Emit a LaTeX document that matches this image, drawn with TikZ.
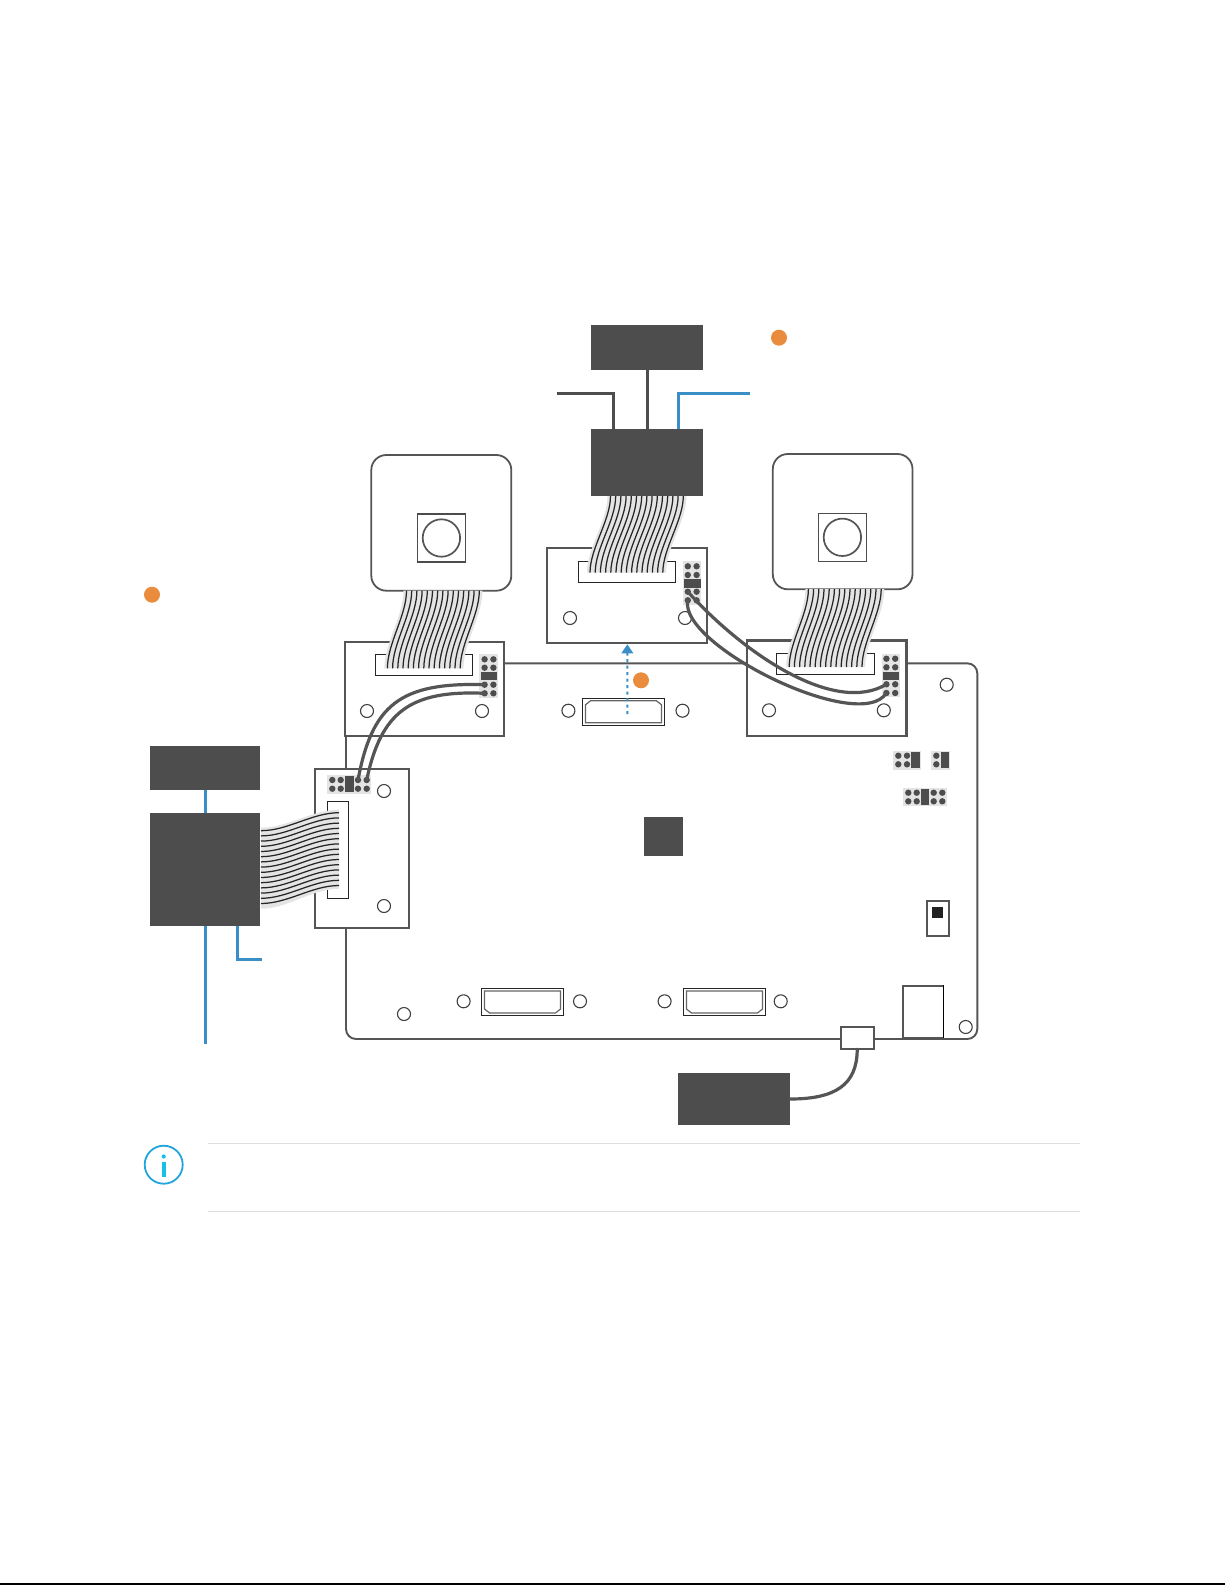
\documentclass[tikz,border=0pt]{standalone}
\usepackage{tikz}
\usetikzlibrary{arrows.meta}
\usetikzlibrary{positioning}
\definecolor{darkbox}{HTML}{4D4D4D}
\definecolor{wiregray}{HTML}{555555}
\definecolor{bandgray}{HTML}{E4E4E4}
\definecolor{leadblue}{HTML}{3A8FC7}
\definecolor{dotorange}{HTML}{EA8C3E}
\definecolor{infoblue}{HTML}{1FA5DC}
\tikzset{
  block/.style={rectangle,fill=darkbox,inner sep=0pt,outer sep=0pt,anchor=north west},
  plate/.style={rectangle,fill=white,draw=wiregray,line width=2pt,inner sep=0pt,outer sep=0pt,anchor=north west},
  slot/.style={rectangle,fill=white,draw=black!85,line width=1.3pt,inner sep=0pt,outer sep=0pt,anchor=north west},
  hole/.style={circle,fill=white,draw=black!75,line width=1.1pt,minimum size=13pt,inner sep=0pt},
  pinhead/.style={rectangle,fill=bandgray,inner sep=0pt,outer sep=0pt,anchor=north west},
  jumper/.style={rectangle,fill=darkbox,inner sep=0pt,outer sep=0pt,anchor=north west},
  pin/.style={circle,fill=darkbox,minimum size=6.4pt,inner sep=0pt},
  marker/.style={circle,fill=dotorange,minimum size=16pt,inner sep=0pt},
  lead/.style={draw=darkbox,line width=3pt},
  bluelead/.style={draw=leadblue,line width=3pt},
  jumpwire/.style={draw=wiregray,line width=3.2pt,line cap=round},
  ribbonline/.style={draw=black!85,line width=1.25pt}
}
% ribbon running downwards: x top, y top, x bottom, y bottom
\newcommand{\ribbonv}[4]{
  \pgfmathsetmacro{\yone}{#2+0.32*(#4-#2)}
  \pgfmathsetmacro{\ytwo}{#4-0.32*(#4-#2)}
  \fill[bandgray] (#1-3,#2) .. controls (#1-3,\yone) and (#3-3,\ytwo) .. (#3-3,#4)
    -- (#3+76,#4) .. controls (#3+76,\ytwo) and (#1+76,\yone) .. (#1+76,#2) -- cycle;
  \foreach \k in {0,...,14} {
    \pgfmathsetmacro{\dx}{\k*5.2}
    \draw[ribbonline] (#1+\dx,#2) .. controls (#1+\dx,\yone) and (#3+\dx,\ytwo) .. (#3+\dx,#4);
  }
}
% connector body: name, x centre, y centre, side of the cut corners
\newcommand{\socket}[4]{
  \node[slot,anchor=center,minimum width=82pt,minimum height=27pt] (#1) at (#2,#3) {};
  \draw[black!60,line width=1.2pt] (#2-38,#3+#4*11) -- (#2+38,#3+#4*11) -- (#2+38,#3-#4*7)
    -- (#2+33,#3-#4*11) -- (#2-33,#3-#4*11) -- (#2-38,#3-#4*7) -- cycle;
}
\begin{document}
\begin{tikzpicture}[x=1pt,y=-1pt]
\useasboundingbox (0,0) rectangle (1225,1585);

% main board
\node[plate,rounded corners=10pt,line width=1.9pt,minimum width=631.3pt,minimum height=375.7pt] (board) at (346,663.3) {};
\node[block,minimum width=39pt,minimum height=39.3pt] (chip) at (644,816.7) {};
\socket{sockm}{623.5}{711.8}{1}
\socket{sockl}{522.5}{1002}{-1}
\socket{sockr}{724.5}{1002}{-1}
\foreach \n/\x/\y in {b1/568.4/710.7,b2/682.5/710.7,b3/946.7/684.7,b4/404/1014,b5/463.6/1001.3,b6/580/1001.3,b7/664.6/1001.3,b8/780.7/1001.3,b9/965.7/1027} {
  \node[hole] (\n) at (\x,\y) {};
}

% headers on the board
\node[pinhead,minimum width=28pt,minimum height=18.7pt] (hdra) at (893,751) {};
\node[pinhead,minimum width=19pt,minimum height=18.7pt] (hdrb) at (931,751) {};
\node[pinhead,minimum width=44pt,minimum height=17.4pt] (hdrc) at (903,788.3) {};
\node[jumper,minimum width=9pt,minimum height=16pt] (juma) at (911,752) {};
\node[jumper,minimum width=8pt,minimum height=16pt] (jumb) at (941,752) {};
\node[jumper,minimum width=8pt,minimum height=16pt] (jumc) at (921,789) {};
\foreach \x in {898.3,907,936.3}
  \foreach \y in {755.7,764.3} {
    \node[pin] at (\x,\y) {};
  }
\foreach \x in {908.3,916.7,933.7,942.3}
  \foreach \y in {792.7,801.3} {
    \node[pin] at (\x,\y) {};
  }
\node[plate,minimum width=22pt,minimum height=35pt] (switch) at (926.7,901.3) {};
\node[jumper,fill=black!87,minimum width=11pt,minimum height=11pt] (knob) at (932,907) {};
\node[plate,draw=black,line width=0.7pt,minimum width=40pt,minimum height=52pt] (usb) at (902.9,985.7) {};
\draw[draw=wiregray,line width=2.4pt] (usb.north east) -- (usb.north west) -- (usb.south west) -- (usb.south east);

% camera modules
\node[plate,line width=1.8pt,rounded corners=15pt,minimum width=140pt,minimum height=135.7pt] (camleft) at (371.3,455) {};
\node[slot,draw=black!70,line width=1.1pt,minimum width=48.2pt,minimum height=48pt] (lensboxl) at (417.3,514) {};
\node[circle,draw=wiregray,line width=1.7pt,minimum size=37.4pt,inner sep=0pt] (lensl) at (lensboxl.center) {};
\node[plate,line width=1.8pt,rounded corners=15pt,minimum width=139.7pt,minimum height=135.3pt] (camright) at (772.8,454) {};
\node[slot,draw=black!70,line width=1.1pt,minimum width=48.2pt,minimum height=48pt] (lensboxr) at (818.3,513.3) {};
\node[circle,draw=wiregray,line width=1.7pt,minimum size=37.4pt,inner sep=0pt] (lensr) at (lensboxr.center) {};

% adapter plates
\node[plate,minimum width=159.5pt,minimum height=94.6pt] (plata) at (344.5,641.7) {};
\node[slot,minimum width=97.2pt,minimum height=21.4pt] (slota) at (375.5,654.3) {};
\node[pinhead,minimum width=19pt,minimum height=43.7pt] (heada) at (479,654) {};
\node[jumper,minimum width=16pt,minimum height=8pt] (jmpa) at (481,672) {};
\foreach \i/\x in {1/484.6,2/493.4}
  \foreach \j/\y in {1/659.3,2/667.7,3/684.7,4/693.3} {
    \node[pin] (a\i\j) at (\x,\y) {};
  }
\foreach \n/\x in {ah1/367,ah2/482} {
  \node[hole] (\n) at (\x,711) {};
}

\node[plate,minimum width=159.9pt,minimum height=95pt] (platb) at (547.4,548.3) {};
\node[slot,minimum width=97.2pt,minimum height=21pt] (slotb) at (578.4,561.3) {};
\node[pinhead,minimum width=18pt,minimum height=44pt] (headb) at (683.2,561) {};
\node[jumper,minimum width=17pt,minimum height=8.7pt] (jmpb) at (684,579) {};
\foreach \i/\x in {1/687.8,2/696.6}
  \foreach \j/\y in {1/566.3,2/575,3/591.7,4/600.3} {
    \node[pin] (m\i\j) at (\x,\y) {};
  }
\foreach \n/\x in {mh1/570,mh2/685} {
  \node[hole] (\n) at (\x,618) {};
}

\node[plate,line width=2.6pt,minimum width=159.5pt,minimum height=95.3pt] (platc) at (746.8,640.7) {};
\node[slot,minimum width=98pt,minimum height=21pt] (slotc) at (776.6,653.3) {};
\node[pinhead,minimum width=18.5pt,minimum height=42.7pt] (headc) at (881.5,654) {};
\node[jumper,minimum width=16pt,minimum height=8pt] (jmpc) at (883,672) {};
\foreach \i/\x in {1/886.4,2/895.2}
  \foreach \j/\y in {1/658.7,2/667.3,3/684.3,4/693} {
    \node[pin] (c\i\j) at (\x,\y) {};
  }
\foreach \n/\x in {ch1/769,ch2/883.8} {
  \node[hole] (\n) at (\x,710.3) {};
}

\node[plate,minimum width=94.6pt,minimum height=159.3pt] (platd) at (314.7,768.7) {};
\node[slot,minimum width=21.4pt,minimum height=97.4pt] (slotd) at (327.3,801.3) {};
\node[pinhead,minimum width=43.7pt,minimum height=19pt] (headd) at (327,775) {};
\node[jumper,minimum width=8.7pt,minimum height=16.6pt] (jmpd) at (345,775.7) {};
\foreach \i/\x in {1/332.3,2/340.7,3/358,4/366.7}
  \foreach \j/\y in {1/780,2/788.7} {
    \node[pin] (d\i\j) at (\x,\y) {};
  }
\node[hole] (dh1) at (384,791) {};
\node[hole] (dh2) at (384,906) {};

% ribbons
\ribbonv{406.5}{590.7}{387.4}{668.3}
\ribbonv{808.4}{589}{789.2}{667}
\ribbonv{610.5}{496}{590}{572.7}
\fill[bandgray] (261,827.7) .. controls (288,827.7) and (312,809.7) .. (339,809.7)
  -- (339,888.7) .. controls (312,888.7) and (288,908.7) .. (261,908.7) -- cycle;
\foreach \k in {0,...,14} {
  \pgfmathsetmacro{\dy}{\k*5.2}
  \draw[ribbonline] (261,830.7+\dy) .. controls (288,830.7+\dy) and (312,812.7+\dy) .. (339,812.7+\dy);
}

% black boxes
\node[block,minimum width=112pt,minimum height=45pt] (supply) at (591,325) {};
\node[block,minimum width=112pt,minimum height=67pt] (dongle) at (591,429) {};
\node[block,minimum width=110pt,minimum height=44pt] (supplyl) at (150.3,746) {};
\node[block,minimum width=110pt,minimum height=113pt] (donglel) at (150.3,813) {};
\node[block,minimum width=112pt,minimum height=52pt] (power) at (678,1073) {};
\node[plate,line width=2.2pt,minimum width=33pt,minimum height=22pt] (plug) at (840.7,1027.3) {};

% leads
\coordinate (endl) at (556.6,393.3);
\coordinate (intl) at (613.6,429);
\coordinate (endr) at (750,393.3);
\coordinate (intr) at (678.6,429);
\draw[lead] (supply.south) -- (dongle.north);
\draw[lead] (endl) -| (intl);
\draw[bluelead] (endr) -| (intr);
\coordinate (endd) at (205.3,1044);
\coordinate (inte) at (237.3,926);
\coordinate (ende) at (262.3,959.3);
\draw[bluelead] (supplyl.south) -- (donglel.north);
\draw[bluelead] (donglel.south) -- (endd);
\draw[bluelead] (inte) |- (ende);
\draw[jumpwire] (power.east) .. controls (835,1099) and (857.2,1085) .. (plug.south);

% jumper wires
\draw[jumpwire] (d31.center) .. controls (372,705) and (400,682) .. (a13.center);
\draw[jumpwire] (d41.center) .. controls (381,712) and (410,690) .. (a14.center);
\draw[jumpwire] (m13.center) .. controls (745,655) and (835,715) .. (c13.center);
\draw[jumpwire] (m14.center) .. controls (678,645) and (860,735) .. (c14.center);

% dotted arrow and markers
\coordinate (arrowstart) at (627.3,714);
\draw[leadblue,line width=2pt,dash pattern=on 3pt off 3.5pt,-{Triangle[width=11.5pt,length=9pt]},shorten >=1pt] (arrowstart) -- (platb.south);
\node[marker] (markm) at (641,680.3) {};
\node[marker] (markt) at (779,337.7) {};
\node[marker] (markl) at (152,594.7) {};

% note rules and icon
\coordinate (ruleal) at (208,1143.3);
\coordinate (rulear) at (1079.5,1143.3);
\coordinate (rulebl) at (208,1211.3);
\coordinate (rulebr) at (1079.5,1211.3);
\draw[black!13,line width=1pt] (ruleal) -- (rulear);
\draw[black!13,line width=1pt] (rulebl) -- (rulebr);
\node[circle,draw=infoblue,line width=1.8pt,minimum size=38pt,inner sep=0pt] (info) at (163.7,1164.7) {};
\fill[infoblue!70!cyan] (163.7,1156.5) circle (2.1);
\fill[infoblue!70!cyan] (162,1161.7) rectangle (165.7,1177);

\coordinate (pageedgel) at (0,1584.2);
\coordinate (pageedger) at (1225,1584.2);
\draw[black,line width=1.6pt] (pageedgel) -- (pageedger);
\end{tikzpicture}
\end{document}
